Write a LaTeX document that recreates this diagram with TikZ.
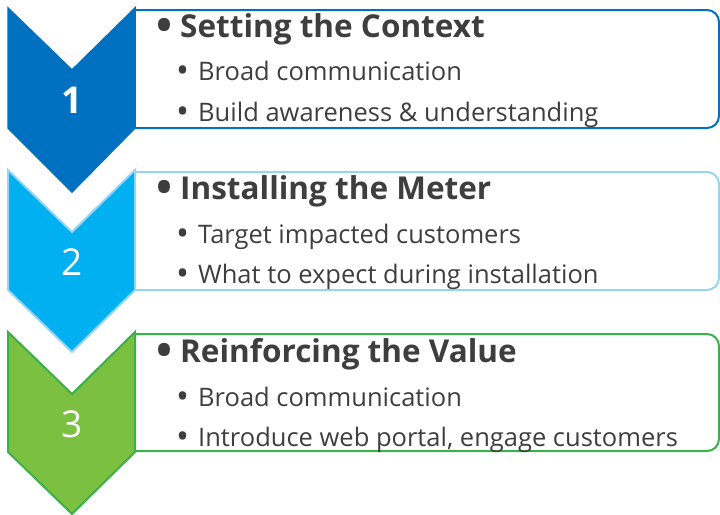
\documentclass[tikz,border=0pt]{standalone}
\usepackage{fontspec}
\setmainfont{Open Sans}
\usepackage{tikz}
\definecolor{stepOne}{RGB}{0,112,192}
\definecolor{stepTwo}{RGB}{0,176,240}
\definecolor{stepTwoEdge}{RGB}{150,212,242}
\definecolor{stepThree}{RGB}{124,192,66}
\definecolor{stepThreeEdge}{RGB}{58,176,74}
\definecolor{textGray}{RGB}{62,62,62}
\tikzstyle{heading} = [anchor=base west, inner sep=0pt, text=textGray, font=\fontsize{31.5}{31.5}\selectfont\bfseries]
\tikzstyle{item} = [anchor=base west, inner sep=0pt, text=textGray, font=\fontsize{25.5}{25.5}\selectfont]
\tikzstyle{number} = [inner sep=0pt, text=white, font=\fontsize{37}{37}\selectfont]
\tikzstyle{chevronOne} = [fill=stepOne, draw=stepOne, line width=1.5pt, line join=miter]
\tikzstyle{chevronTwo} = [fill=stepTwo, draw=stepTwoEdge, line width=2pt, line join=miter]
\tikzstyle{chevronThree} = [fill=stepThree, draw=stepThreeEdge, line width=2pt, line join=miter]
\tikzstyle{frame} = [line width=2pt, rounded corners=12pt]
\newcommand{\hbul}{\makebox[24pt][l]{\raisebox{-3.5pt}{\scalebox{1.35}{\textbullet}}}}
\newcommand{\ibul}{\makebox[22pt][l]{\raisebox{-2.5pt}{\scalebox{1.35}{\textbullet}}}}
\begin{document}
\begin{tikzpicture}[x=1pt,y=-1pt]
	\useasboundingbox (0,0) rectangle (720,514);
	
	% frames
	\draw [frame, draw=stepOne] (135,10) -- (719,10) -- (719,128) -- (135,128);
	\draw [frame, draw=stepTwoEdge] (135,172) -- (719,172) -- (719,290) -- (135,290);
	\draw [frame, draw=stepThreeEdge] (135,334) -- (719,334) -- (719,451) -- (135,451);
	
	% chevrons
	\draw [chevronOne] (8,8) -- (72,70) -- (135,8) -- (135,128) -- (72,192) -- (8,128) -- cycle;
	\draw [chevronTwo] (8,170) -- (72,232) -- (135,170) -- (135,290) -- (72,352) -- (8,290) -- cycle;
	\draw [chevronThree] (8,332) -- (72,394) -- (135,332) -- (135,452) -- (72,514) -- (8,452) -- cycle;
	
	\node (num1) [number, font=\fontsize{37}{37}\selectfont\bfseries] at (72,100) {1};
	\node (num2) [number] at (72,262) {2};
	\node (num3) [number] at (72,424) {3};
	
	\node (title1) [heading] at (156,37) {\hbul Setting the Context};
	\node (item1a) [item] at (176,80) {\ibul Broad communication};
	\node (item1b) [item] at (176,121) {\ibul Build awareness \& understanding};
	
	\node (title2) [heading] at (156,199) {\hbul Installing the Meter};
	\node (item2a) [item] at (176,243) {\ibul Target impacted customers};
	\node (item2b) [item] at (176,283) {\ibul What to expect during installation};
	
	\node (title3) [heading] at (156,362) {\hbul Reinforcing the Value};
	\node (item3a) [item] at (176,406) {\ibul Broad communication};
	\node (item3b) [item] at (176,446) {\ibul Introduce web portal, engage customers};
\end{tikzpicture}
\end{document}
